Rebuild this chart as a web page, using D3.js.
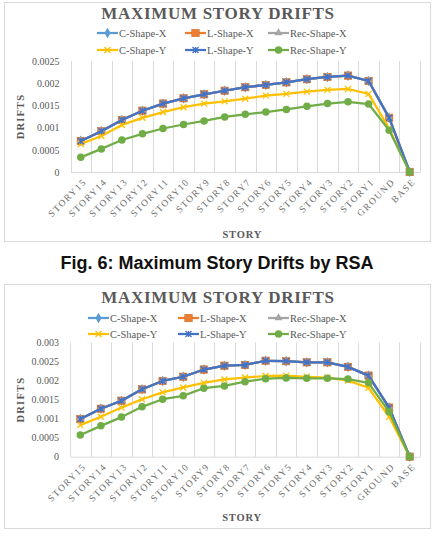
<!DOCTYPE html>
<html>
<head>
<meta charset="utf-8">
<script src="https://cdn.jsdelivr.net/npm/d3@7"></script>
<style>
  html, body { margin: 0; padding: 0; background: #fff; }
  svg { display: block; }
</style>
</head>
<body>
<div id="chart"></div>
<script>
// categories on the x axis
const stories = ["STORY15", "STORY14", "STORY13", "STORY12", "STORY11", "STORY10", "STORY9", "STORY8",
  "STORY7", "STORY6", "STORY5", "STORY4", "STORY3", "STORY2", "STORY1", "GROUND", "BASE"];

const seriesNames = ["C-Shape-X", "L-Shape-X", "Rec-Shape-X", "C-Shape-Y", "L-Shape-Y", "Rec-Shape-Y"];

// top chart values
const topXDir = [0.00070, 0.00092, 0.00117, 0.00138, 0.00154, 0.00166, 0.00175, 0.00183,
  0.00191, 0.00196, 0.00202, 0.00209, 0.00214, 0.00217, 0.00205, 0.00122, 0];
const topCShapeY = [0.00063, 0.00081, 0.00106, 0.00122, 0.00135, 0.00146, 0.00154, 0.00159,
  0.00165, 0.00172, 0.00176, 0.00181, 0.00185, 0.00187, 0.00176, 0.00098, 0];
const topRecShapeY = [0.00033, 0.00052, 0.00072, 0.00086, 0.00098, 0.00107, 0.00115, 0.00124,
  0.00130, 0.00135, 0.00141, 0.00148, 0.00154, 0.00158, 0.00153, 0.00094, 0];
const topYTicks = [0, 0.0005, 0.001, 0.0015, 0.002, 0.0025];

// bottom chart values
const botXDir = [0.00099, 0.00126, 0.00147, 0.00177, 0.00199, 0.00210, 0.00229, 0.00239,
  0.00241, 0.00252, 0.00251, 0.00248, 0.00248, 0.00236, 0.00213, 0.00129, 0];
const botCShapeY = [0.00083, 0.00105, 0.00129, 0.00151, 0.00169, 0.00182, 0.00194, 0.00203,
  0.00208, 0.00212, 0.00213, 0.00210, 0.00208, 0.00200, 0.00181, 0.00105, 0];
const botRecShapeY = [0.00057, 0.00081, 0.00104, 0.00131, 0.00151, 0.00160, 0.00180, 0.00186,
  0.00197, 0.00205, 0.00207, 0.00206, 0.00206, 0.00204, 0.00194, 0.00118, 0];
const botYTicks = [0, 0.0005, 0.001, 0.0015, 0.002, 0.0025, 0.003];

const colors = ["#5B9BD5", "#ED7D31", "#A5A5A5", "#FFC000", "#4472C4", "#70AD47"];
const markers = ["diamond", "square", "triangle", "x", "star", "circle"];

const W = 435, H = 541;
const grey = "#595959";
const gridColor = "#d9d9d9";

const svg = d3.select("#chart").append("svg")
  .attr("width", W)
  .attr("height", H);

// draws one marker shape at 0,0 inside g
function drawMarker(g, type, color, s) {
  if (type === "diamond") {
    g.append("path").attr("d", d3.symbol(d3.symbolDiamond, s * s * 0.9)()).attr("fill", color);
  } else if (type === "square") {
    g.append("rect").attr("x", -s / 2).attr("y", -s / 2).attr("width", s).attr("height", s)
      .attr("fill", color).attr("stroke", "#c96a28").attr("stroke-width", 0.5);
  } else if (type === "triangle") {
    g.append("path").attr("d", d3.symbol(d3.symbolTriangle, s * s * 0.8)()).attr("fill", color);
  } else if (type === "circle") {
    g.append("circle").attr("r", s / 2).attr("fill", color);
  } else {
    const h = s / 2;
    g.append("path").attr("d", `M${-h},${-h}L${h},${h}M${-h},${h}L${h},${-h}` + (type === "star" ? `M0,${-h}L0,${h}` : ""))
      .attr("stroke", color).attr("stroke-width", 1.3).attr("fill", "none");
  }
}

function markerSize(type) {
  if (type === "square") return 7.5;
  if (type === "circle") return 7.5;
  return 6;
}

function drawChart(cfg, values, yTicks) {
  const g = svg.append("g");

  // chart frame
  g.append("rect")
    .attr("x", cfg.frame[0] + 0.5).attr("y", cfg.frame[1] + 0.5)
    .attr("width", cfg.frame[2]).attr("height", cfg.frame[3])
    .attr("fill", "#fff").attr("stroke", gridColor).attr("stroke-width", 1);

  // title
  g.append("text")
    .attr("x", cfg.titleX).attr("y", cfg.titleY)
    .attr("text-anchor", "middle").attr("dominant-baseline", "central")
    .attr("font-family", "Liberation Serif, serif")
    .attr("font-size", 17).attr("font-weight", "bold")
    .attr("letter-spacing", 0.7)
    .attr("fill", grey)
    .text("MAXIMUM STORY DRIFTS");

  const x = d3.scaleBand().domain(stories).range([cfg.left, cfg.right]);
  const y = d3.scaleLinear().domain([0, yTicks[yTicks.length - 1]]).range([cfg.bottom, cfg.top]);

  // vertical gridlines at category borders
  const edges = stories.map(s => x(s)).concat([cfg.right]);
  g.append("g").selectAll("line").data(edges).join("line")
    .attr("x1", d => Math.round(d) + 0.5).attr("x2", d => Math.round(d) + 0.5)
    .attr("y1", cfg.top).attr("y2", cfg.bottom)
    .attr("stroke", gridColor).attr("stroke-width", 1);

  // y axis
  const yAxis = g.append("g")
    .attr("transform", `translate(${cfg.left - 8},0)`)
    .call(d3.axisLeft(y).tickValues(yTicks).tickSize(0).tickFormat(d => String(d)));
  yAxis.select(".domain").remove();
  yAxis.selectAll("text")
    .attr("font-family", "Liberation Serif, serif")
    .attr("font-size", 10).attr("fill", grey);

  // x axis
  const xAxis = g.append("g")
    .attr("transform", `translate(0,${cfg.bottom})`)
    .call(d3.axisBottom(x).tickSize(0));
  xAxis.select(".domain").attr("stroke", gridColor);
  xAxis.selectAll("text")
    .attr("font-family", "Liberation Serif, serif")
    .attr("font-size", 9.5).attr("fill", "#6f6f6f")
    .attr("letter-spacing", 1.4)
    .attr("text-anchor", "end")
    .attr("dy", "0.35em")
    .attr("y", 0)
    .attr("transform", "translate(4,8) rotate(-45)");

  // axis titles
  g.append("text")
    .attr("x", (cfg.left + cfg.right) / 2 - 3).attr("y", cfg.xTitleY)
    .attr("text-anchor", "middle").attr("dominant-baseline", "central")
    .attr("font-family", "Liberation Serif, serif")
    .attr("font-size", 10.5).attr("font-weight", "bold")
    .attr("letter-spacing", 0.8).attr("fill", grey)
    .text("STORY");
  g.append("text")
    .attr("transform", `translate(20,${(cfg.top + cfg.bottom) / 2}) rotate(-90)`)
    .attr("text-anchor", "middle").attr("dominant-baseline", "central")
    .attr("font-family", "Liberation Serif, serif")
    .attr("font-size", 10.5).attr("font-weight", "bold")
    .attr("letter-spacing", 1.2).attr("fill", grey)
    .text("DRIFTS");

  // series lines and markers
  const line = d3.line()
    .x((d, i) => x(stories[i]) + x.bandwidth() / 2)
    .y(d => y(d));
  values.forEach((vals, si) => {
    g.append("path")
      .datum(vals)
      .attr("d", line)
      .attr("fill", "none")
      .attr("stroke", colors[si])
      .attr("stroke-width", 2.25)
      .attr("stroke-linejoin", "round");
    vals.forEach((v, i) => {
      const m = g.append("g")
        .attr("transform", `translate(${x(stories[i]) + x.bandwidth() / 2},${y(v)})`);
      drawMarker(m, markers[si], colors[si], markerSize(markers[si]));
    });
  });

  // legend (two rows of three)
  seriesNames.forEach((name, si) => {
    const col = si % 3, row = Math.floor(si / 3);
    const lx = cfg.legendX[col], ly = cfg.legendY[row];
    const lg = g.append("g").attr("transform", `translate(${lx},${ly})`);
    lg.append("line").attr("x1", 0).attr("x2", 21).attr("y1", 0).attr("y2", 0)
      .attr("stroke", colors[si]).attr("stroke-width", 2.25);
    const m = lg.append("g").attr("transform", "translate(10.5,0)");
    drawMarker(m, markers[si], colors[si], markerSize(markers[si]));
    lg.append("text")
      .attr("x", 22).attr("y", 0)
      .attr("dominant-baseline", "central")
      .attr("font-family", "Liberation Serif, serif")
      .attr("font-size", 10.5).attr("fill", grey)
      .text(name);
  });
}

const topSeries = [topXDir, topXDir, topXDir, topCShapeY, topXDir, topRecShapeY];
const botSeries = [botXDir, botXDir, botXDir, botCShapeY, botXDir, botRecShapeY];

drawChart({
  frame: [4, 2, 426, 239],
  titleX: 218, titleY: 13,
  legendX: [97, 185, 268], legendY: [33, 50],
  left: 70.5, right: 420, top: 61, bottom: 172,
  xTitleY: 234
}, topSeries, topYTicks);

// caption between the two charts
svg.append("text")
  .attr("x", 217).attr("y", 263)
  .attr("text-anchor", "middle").attr("dominant-baseline", "central")
  .attr("font-family", "Liberation Sans, Arial, sans-serif")
  .attr("font-size", 18).attr("font-weight", "bold")
  .attr("fill", "#111")
  .text("Fig. 6: Maximum Story Drifts by RSA");

drawChart({
  frame: [4, 284, 426, 244],
  titleX: 218, titleY: 297,
  legendX: [88, 178, 268], legendY: [318, 334],
  left: 70, right: 420, top: 342.5, bottom: 456.7,
  xTitleY: 517
}, botSeries, botYTicks);
</script>
</body>
</html>
